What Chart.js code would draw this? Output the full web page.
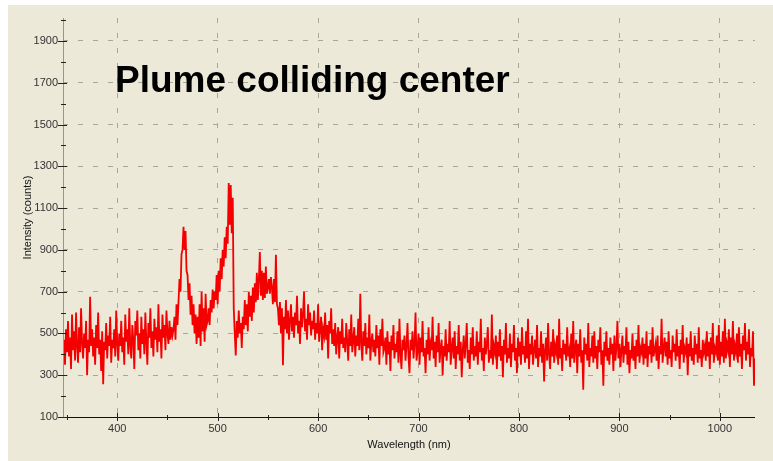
<!DOCTYPE html>
<html>
<head>
<meta charset="utf-8">
<title>Plume colliding center</title>
<script src="https://cdn.jsdelivr.net/npm/chart.js@4.4.0/dist/chart.umd.min.js"></script>
<style>
  html, body { margin: 0; padding: 0; background: #ffffff; }
  #wrap { position: absolute; left: 8px; top: 5px; width: 765px; height: 456px; background: #ece9d8; }
</style>
</head>
<body>
<div id="wrap"><canvas id="chart" width="765" height="456"></canvas></div>
<script>
var chartTitle = 'Plume colliding center';
var xAxisLabel = 'Wavelength (nm)';
var yAxisLabel = 'Intensity (counts)';

// spectrometer sampling: one reading per nm starting at 346 nm
var wavelengthStart = 346;
var wavelengthStep = 1;

var xTicks = [400, 500, 600, 700, 800, 900, 1000];
var xMinorTicks = [350, 450, 550, 650, 750, 850, 950];
var yTicks = [100, 300, 500, 700, 900, 1100, 1300, 1500, 1700, 1900];
var yMinorTicks = [200, 400, 600, 800, 1000, 1200, 1400, 1600, 1800, 2000];

// intensity readings (counts), 346 nm .. 1035 nm
var counts = [
  380, 470, 350, 520, 410, 560, 390, 480, 330, 590,
  420, 510, 370, 600, 440, 360, 530, 410, 620, 450,
  380, 500, 430, 560, 300, 470, 410, 675, 440, 520,
  390, 480, 350, 540, 430, 600, 400, 470, 320, 510,
  257, 460, 420, 550, 380, 490, 440, 580, 360, 470,
  430, 520, 390, 610, 450, 370, 500, 440, 560, 410,
  480, 350, 590, 460, 520, 400, 620, 440, 380, 540,
  470, 330, 560, 490, 610, 420, 500, 380, 580, 450,
  520, 400, 600, 460, 350, 550, 480, 620, 430, 510,
  390, 570, 470, 530, 410, 640, 460, 520, 380, 590,
  480, 540, 420, 610, 500, 450, 560, 470, 530, 490,
  520, 580, 470, 640, 540, 650, 760, 700, 880, 900,
  1010, 900, 990, 800, 780, 660, 740, 590, 680, 540,
  640, 500, 590, 450, 580, 480, 640, 440, 700, 510,
  620, 460, 690, 540, 560, 620, 540, 660, 600, 710,
  620, 700, 660, 780, 640, 800, 700, 860, 760, 900,
  820, 960, 860, 1010, 930, 1220, 1020, 1210, 980, 1150,
  620, 500, 395, 560, 480, 610, 500, 550, 430, 580,
  520, 660, 540, 640, 510, 700, 580, 680, 560, 720,
  600, 740, 650, 790, 660, 760, 890, 680, 800, 660,
  790, 670, 820, 690, 720, 760, 690, 770, 720, 640,
  760, 650, 876, 640, 620, 540, 650, 500, 620, 348,
  580, 520, 660, 500, 610, 470, 560, 640, 510, 580,
  480, 600, 540, 680, 500, 560, 450, 620, 530, 590,
  700, 510, 570, 470, 640, 540, 600, 490, 560, 520,
  610, 470, 550, 500, 640, 460, 530, 580, 420, 520,
  490, 600, 470, 540, 380, 560, 500, 620, 450, 520,
  440, 550, 400, 480, 530, 380, 510, 450, 570, 430,
  480, 410, 550, 460, 370, 520, 440, 590, 410, 470,
  530, 390, 490, 440, 570, 420, 690, 450, 370, 510,
  440, 550, 400, 480, 430, 590, 370, 460, 500, 410,
  470, 390, 540, 430, 490, 350, 520, 440, 570, 410,
  430, 480, 350, 510, 400, 460, 320, 490, 420, 540,
  380, 450, 410, 510, 360, 570, 400, 330, 470, 420,
  490, 370, 440, 550, 390, 310, 470, 420, 510, 380,
  450, 600, 370, 420, 500, 350, 480, 410, 560, 390,
  430, 310, 470, 400, 530, 370, 450, 420, 580, 380,
  460, 340, 490, 410, 550, 360, 430, 470, 300, 440,
  390, 520, 370, 450, 410, 560, 350, 430, 480, 380,
  510, 330, 440, 400, 540, 370, 460, 290, 420, 490,
  380, 450, 550, 360, 420, 330, 480, 400, 530, 370,
  440, 390, 510, 350, 460, 410, 570, 370, 430, 320,
  480, 400, 450, 530, 360, 420, 380, 590, 350, 440,
  410, 490, 330, 460, 390, 520, 370, 440, 290, 470,
  400, 550, 360, 430, 380, 500, 340, 450, 410, 540,
  370, 430, 310, 480, 390, 460, 350, 530, 400, 440,
  360, 510, 380, 570, 330, 450, 400, 490, 350, 420,
  470, 380, 540, 340, 430, 390, 510, 360, 450, 270,
  420, 480, 370, 550, 400, 330, 460, 390, 520, 360,
  440, 410, 490, 350, 570, 380, 430, 320, 470, 400,
  450, 370, 530, 390, 420, 340, 500, 380, 560, 360,
  430, 470, 310, 450, 390, 520, 360, 420, 230, 480,
  400, 450, 370, 550, 340, 430, 390, 490, 360, 510,
  380, 440, 330, 470, 410, 530, 350, 420, 250, 460,
  390, 510, 370, 430, 350, 480, 400, 450, 320, 490,
  370, 430, 560, 380, 450, 340, 420, 490, 360, 440,
  400, 530, 350, 460, 310, 420, 380, 500, 370, 440,
  330, 470, 390, 540, 360, 430, 410, 480, 350, 450,
  380, 510, 340, 440, 400, 470, 360, 530, 390, 420,
  450, 370, 490, 330, 440, 400, 570, 360, 430, 480,
  390, 460, 350, 510, 380, 420, 340, 490, 410, 450,
  370, 520, 390, 440, 330, 470, 400, 540, 360, 430,
  410, 480, 300, 450, 390, 510, 370, 430, 350, 490,
  400, 450, 360, 530, 380, 420, 340, 470, 410, 440,
  370, 510, 390, 460, 330, 480, 400, 550, 360, 430,
  410, 490, 370, 540, 350, 460, 390, 510, 360, 570,
  380, 450, 420, 520, 340, 480, 400, 560, 370, 440,
  410, 500, 360, 530, 390, 450, 330, 490, 420, 550,
  370, 460, 400, 520, 340, 430, 390, 510, 250, 380
];

Chart.defaults.font.family = '"Liberation Sans", Arial, sans-serif';
Chart.defaults.font.size = 11;

function plainNumber(value) {
  return String(value);
}

// axis lines, tick marks (crossing the axis) and the big caption
var axisMarks = {
  id: 'axisMarks',
  afterDraw: function(chart) {
    var ctx = chart.ctx;
    var a = chart.chartArea;
    var xs = chart.scales.x;
    var ys = chart.scales.y;
    ctx.save();
    ctx.lineWidth = 1;

    ctx.strokeStyle = '#111111';
    ctx.beginPath();
    ctx.moveTo(a.left, Math.round(a.bottom) + 0.5);
    ctx.lineTo(a.right, Math.round(a.bottom) + 0.5);
    ctx.stroke();

    ctx.strokeStyle = '#44cc44';
    ctx.beginPath();
    ctx.moveTo(Math.round(a.left) + 0.5, a.top);
    ctx.lineTo(Math.round(a.left) + 0.5, a.bottom);
    ctx.stroke();

    ctx.strokeStyle = '#222222';
    ctx.beginPath();
    yTicks.forEach(function(v) {
      var y = Math.round(ys.getPixelForValue(v)) + 0.5;
      ctx.moveTo(a.left - 5, y); ctx.lineTo(a.left + 4, y);
    });
    yMinorTicks.forEach(function(v) {
      var y = Math.round(ys.getPixelForValue(v)) + 0.5;
      ctx.moveTo(a.left - 2, y); ctx.lineTo(a.left + 3, y);
    });
    xTicks.forEach(function(v) {
      var x = Math.round(xs.getPixelForValue(v)) + 0.5;
      ctx.moveTo(x, a.bottom - 4); ctx.lineTo(x, a.bottom + 4);
    });
    xMinorTicks.forEach(function(v) {
      var x = Math.round(xs.getPixelForValue(v)) + 0.5;
      ctx.moveTo(x, a.bottom - 2); ctx.lineTo(x, a.bottom + 3);
    });
    ctx.stroke();

    ctx.fillStyle = '#000000';
    ctx.font = 'bold 37px "Liberation Sans", Arial, sans-serif';
    ctx.textBaseline = 'alphabetic';
    ctx.textAlign = 'left';
    ctx.fillText(chartTitle, a.left + 52, a.top + 74);
    ctx.restore();
  }
};

var chart = new Chart(document.getElementById('chart'), {
  type: 'line',
  data: {
    datasets: [{
      data: counts.map(function(v, i) {
        return { x: wavelengthStart + i * wavelengthStep, y: v };
      }),
      borderColor: '#f40000',
      borderWidth: 1.8,
      pointRadius: 0,
      tension: 0,
      fill: false
    }]
  },
  options: {
    responsive: false,
    animation: false,
    events: [],
    layout: { padding: { left: 0, top: 13, right: 18, bottom: 0 } },
    plugins: {
      legend: { display: false },
      tooltip: { enabled: false }
    },
    scales: {
      x: {
        type: 'linear',
        min: 346,
        max: 1035,
        afterBuildTicks: function(s) { s.ticks = xTicks.map(function(v) { return { value: v }; }); },
        afterFit: function(s) { s.height = 44; },
        ticks: { padding: 5, color: '#333333', maxRotation: 0, autoSkip: false, callback: plainNumber },
        grid: { drawTicks: false, color: '#a8a599', lineWidth: 1 },
        border: { display: false, dash: [5, 10] },
        title: { display: true, text: xAxisLabel, color: '#111111', padding: { top: 0, bottom: 9 } }
      },
      y: {
        type: 'linear',
        min: 100,
        max: 2010,
        afterBuildTicks: function(s) { s.ticks = yTicks.map(function(v) { return { value: v }; }); },
        afterFit: function(s) { s.width = 55; },
        ticks: { padding: 5, color: '#333333', autoSkip: false, callback: plainNumber },
        grid: { drawTicks: false, color: '#a8a599', lineWidth: 1 },
        border: { display: false, dash: [5, 10] },
        title: { display: true, text: yAxisLabel, color: '#111111', padding: { top: 13, bottom: 0 } }
      }
    }
  },
  plugins: [axisMarks]
});
</script>
</body>
</html>
